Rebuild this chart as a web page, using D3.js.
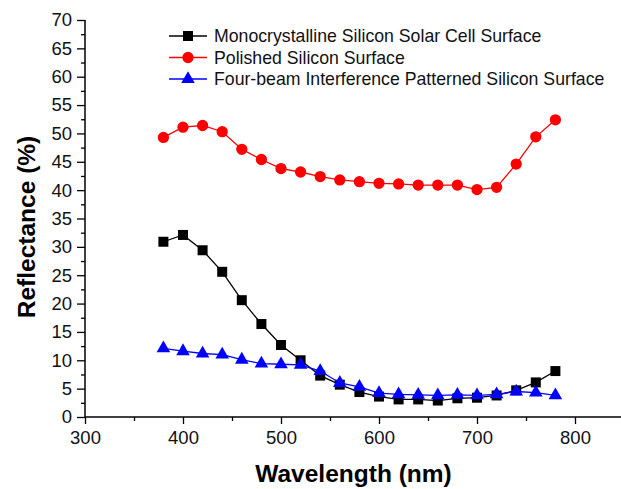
<!DOCTYPE html>
<html>
<head>
<meta charset="utf-8">
<script src="https://cdn.jsdelivr.net/npm/d3@7"></script>
<style>
  body { margin: 0; background: #fff; }
  text { font-family: "Liberation Sans", Arial, sans-serif; }
</style>
</head>
<body>
<div id="canvas"></div>
<script>
// wavelengths (nm)
const wavelength = [380, 400, 420, 440, 460, 480, 500, 520, 540, 560, 580, 600, 620, 640, 660, 680, 700, 720, 740, 760, 780];
// reflectance (%) per surface
const monoSi = [30.9, 32.1, 29.4, 25.6, 20.6, 16.4, 12.7, 10.0, 7.3, 5.7, 4.4, 3.6, 3.1, 3.1, 2.9, 3.3, 3.4, 3.8, 4.7, 6.1, 8.1];
const polishedSi = [49.3, 51.1, 51.4, 50.3, 47.2, 45.4, 43.8, 43.2, 42.4, 41.8, 41.5, 41.2, 41.1, 40.9, 40.9, 40.9, 40.1, 40.5, 44.6, 49.4, 52.4];
const fourBeamSi = [12.1, 11.6, 11.2, 11.0, 10.1, 9.4, 9.3, 9.2, 8.1, 6.0, 5.3, 4.2, 4.0, 3.9, 3.8, 3.9, 3.8, 4.0, 4.5, 4.3, 3.8];
const seriesNames = ["Monocrystalline Silicon Solar Cell Surface", "Polished Silicon Surface", "Four-beam Interference Patterned Silicon Surface"];
const xTicks = [300, 400, 500, 600, 700, 800];
const yTicks = [0, 5, 10, 15, 20, 25, 30, 35, 40, 45, 50, 55, 60, 65, 70];

const width = 621, height = 489;
const margin = { top: 20, left: 85, bottom: 72, right: -3 };
const iwidth = width - margin.left - margin.right;
const iheight = height - margin.top - margin.bottom;

const svg = d3.select("#canvas").append("svg")
  .attr("width", width)
  .attr("height", height);

const g = svg.append("g")
  .attr("transform", `translate(${margin.left}, ${margin.top})`);

const x = d3.scaleLinear().domain([300, 850]).range([0, iwidth]);
const y = d3.scaleLinear().domain([0, 70]).range([iheight, 0]);

// axes
const xAxis = g.append("g")
  .attr("transform", `translate(0, ${iheight})`)
  .call(d3.axisBottom(x).tickValues(xTicks).tickSize(7).tickPadding(7));
g.append("g")
  .attr("transform", `translate(0, ${iheight})`)
  .call(d3.axisBottom(x).tickValues(d3.range(350, 850, 100)).tickSize(4).tickFormat(""))
  .select(".domain").remove();

const yAxis = g.append("g")
  .call(d3.axisLeft(y).tickValues(yTicks).tickSize(8).tickPadding(5));
g.append("g")
  .call(d3.axisLeft(y).tickValues(d3.range(2.5, 70, 5)).tickSize(4).tickFormat(""))
  .select(".domain").remove();

g.selectAll(".domain").attr("stroke-width", 1.5);
xAxis.select(".domain").attr("d", `M0,0H${iwidth}`);
yAxis.select(".domain").attr("d", `M0,0V${iheight}`);
g.selectAll(".tick line").attr("stroke-width", 1.3);
g.selectAll(".tick text").attr("font-size", 18.5).attr("fill", "#111");

// series
const series = [
  { name: seriesNames[0], values: monoSi, color: "#000000", symbol: d3.symbolSquare, size: 100 },
  { name: seriesNames[1], values: polishedSi, color: "#ff0000", symbol: d3.symbolCircle, size: 100 },
  { name: seriesNames[2], values: fourBeamSi, color: "#0000ff", symbol: d3.symbolTriangle, size: 80 }
];

const line = d3.line()
  .x((d, i) => x(wavelength[i]))
  .y(d => y(d));

series.forEach(s => {
  g.append("path")
    .datum(s.values)
    .attr("fill", "none")
    .attr("stroke", s.color)
    .attr("stroke-width", 1.3)
    .attr("d", line);
  g.selectAll(null)
    .data(s.values)
    .enter()
    .append("path")
    .attr("transform", (d, i) => `translate(${x(wavelength[i])}, ${y(d)})`)
    .attr("d", d3.symbol().type(s.symbol).size(s.size))
    .attr("fill", s.color);
});

// legend
const legend = svg.append("g").attr("transform", "translate(169, 36)");
series.forEach((s, i) => {
  const row = legend.append("g").attr("transform", `translate(0, ${i * 21.5})`);
  row.append("line").attr("x1", 0).attr("x2", 38).attr("stroke", s.color).attr("stroke-width", 1.3);
  row.append("path")
    .attr("transform", "translate(19, 0)")
    .attr("d", d3.symbol().type(s.symbol).size(s.size))
    .attr("fill", s.color);
  row.append("text")
    .attr("x", 45).attr("y", 6)
    .attr("font-size", 17.7)
    .attr("fill", "#111")
    .text(s.name);
});

// axis titles
svg.append("text")
  .attr("x", margin.left + x(575) - 1)
  .attr("y", 482)
  .attr("text-anchor", "middle")
  .attr("font-size", 24.5)
  .attr("font-weight", "bold")
  .text("Wavelength (nm)");

svg.append("text")
  .attr("transform", `translate(35, 227) rotate(-90)`)
  .attr("text-anchor", "middle")
  .attr("font-size", 24.5)
  .attr("font-weight", "bold")
  .text("Reflectance (%)");
</script>
</body>
</html>
